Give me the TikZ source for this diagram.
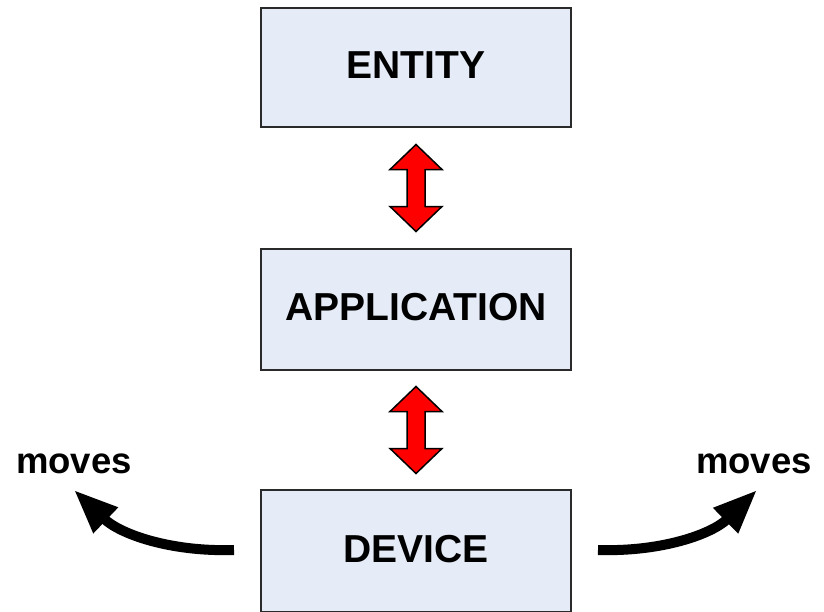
\documentclass[tikz,border=0pt]{standalone}
\usepackage{fontspec}
\setmainfont{Liberation Sans}
\usetikzlibrary{arrows.meta,calc}
\definecolor{boxfill}{HTML}{E6ECF7}
\definecolor{boxline}{HTML}{2A2A2A}
\begin{document}
\begin{tikzpicture}[x=1pt,y=-1pt,
  layer/.style={draw=boxline, line width=2pt, fill=boxfill,
    minimum width=310pt, inner sep=0pt, text depth=5pt,
    font=\fontsize{39}{42}\selectfont\bfseries},
  tag/.style={inner sep=0pt, anchor=base,
    font=\fontsize{36.5}{40}\selectfont\bfseries},
  swap/.style={draw=black, line width=1.5pt, fill=red, line join=miter},
  motion/.style={line width=10pt, -{Triangle[length=44pt,width=33pt]}}
]
\useasboundingbox (0,0) rectangle (824,611);

% the three layers
\node[layer, minimum height=119pt] (entity) at (416,67.5) {ENTITY};
\node[layer, minimum height=121pt] (app) at (416,309.5) {APPLICATION};
\node[layer, minimum height=122pt] (device) at (416,551) {DEVICE};

% two-way red arrows between neighbouring layers
\coordinate (s1) at ($(entity.south)!0.5!(app.north)$);
\coordinate (s2) at ($(app.south)!0.5!(device.north)$);
\foreach \c in {s1,s2}{
  \draw[swap] ([shift={(0,-43.5)}]\c) -- ++(26,25) -- ++(-17,0) -- ++(0,37)
    -- ++(17,0) -- ++(-26,25) -- ++(-26,-25) -- ++(17,0) -- ++(0,-37)
    -- ++(-17,0) -- cycle;
}

% movement of the device
\node[tag] (lmoves) at (74,473) {moves};
\node[tag] (rmoves) at (754,473) {moves};
\coordinate (lstart) at ($(device.west)+(-26,-1)$);
\coordinate (rstart) at ($(device.east)+(26,-1)$);
\coordinate (ltip) at (74,490);
\coordinate (rtip) at (757,490);
\draw[motion] (lstart) .. controls (170,552) and (120,534) .. (ltip);
\draw[motion] (rstart) .. controls (662,552) and (712,534) .. (rtip);
\end{tikzpicture}
\end{document}
